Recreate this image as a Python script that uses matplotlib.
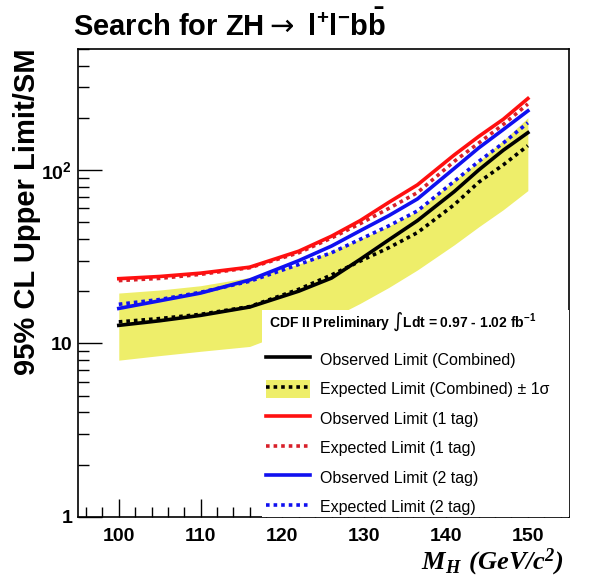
"""95% CL upper limits on ZH -> l+l- bb, CDF II preliminary."""
import numpy as np
import matplotlib
matplotlib.use('Agg')
import matplotlib.pyplot as plt
from matplotlib.lines import Line2D
from matplotlib.patches import Patch, Rectangle
from matplotlib.ticker import FixedLocator, MultipleLocator, LogLocator, NullFormatter

plt.rcParams['font.family'] = ['Liberation Sans', 'DejaVu Sans']

# Higgs mass points (GeV/c^2)
mass = [100, 105, 110, 116, 122, 126, 129.5, 133, 136.5, 141, 144, 147, 150]

# limits / SM
obs_comb = [12.7, 13.5, 14.5, 16.2, 20.0, 23.8, 30.5, 39.5, 51.0, 75.0, 100, 130, 164]
exp_comb = [13.3, 13.9, 14.7, 16.3, 20.5, 24.8, 29.8, 35.6, 43.5, 63.0, 85, 107, 138]
band_lo = [8.0, 8.5, 9.0, 9.6, 12.3, 14.0, 17.0, 21.0, 26.5, 37.0, 47, 59, 76]
band_hi = [19.5, 20.3, 21.5, 24.0, 28.6, 34.0, 40.0, 47.5, 58.0, 87.0, 112, 148, 200]
obs_1tag = [23.6, 24.3, 25.4, 27.5, 34.0, 41.5, 51.0, 65.0, 82.0, 122, 156, 196, 258]
exp_1tag = [23.0, 23.7, 25.0, 27.3, 33.3, 40.5, 49.0, 60.0, 74.0, 112, 143, 183, 240]
obs_2tag = [15.9, 17.6, 19.5, 23.2, 30.0, 36.4, 44.6, 54.5, 68.0, 102, 134, 171, 219]
exp_2tag = [16.8, 17.9, 19.7, 22.8, 28.5, 33.3, 39.8, 47.6, 58.0, 86.0, 112, 143, 187]

yellow = '#eeee6a'
red = '#ff1010'
red_exp = '#d8202a'
blue = '#1010f0'
dotted = (0, (1, 1.1))

fig = plt.figure(figsize=(5.9, 5.8), dpi=100)
ax = fig.add_axes([0.132, 0.109, 0.832, 0.807])

ax.fill_between(mass, band_lo, band_hi, color=yellow, lw=0, zorder=1)

lw = 2.6
ax.plot(mass, exp_comb, color='black', lw=lw, ls=dotted, zorder=4)
ax.plot(mass, obs_comb, color='black', lw=lw, zorder=4)
ax.plot(mass, exp_2tag, color=blue, lw=lw, ls=dotted, zorder=4)
ax.plot(mass, obs_2tag, color=blue, lw=lw, zorder=4)
ax.plot(mass, exp_1tag, color=red_exp, lw=lw, ls=dotted, zorder=4)
ax.plot(mass, obs_1tag, color=red, lw=lw, zorder=4)

# white area behind the legend covers the lower part of the band
ax.add_patch(Rectangle((0.376, 0.0), 0.624, 0.442, transform=ax.transAxes,
                       facecolor='white', edgecolor='none', zorder=3))

ax.set_xlim(95, 155)
ax.set_yscale('log')
ax.set_ylim(1, 500)

ax.xaxis.set_major_locator(MultipleLocator(10))
ax.xaxis.set_minor_locator(MultipleLocator(2))
ax.yaxis.set_major_locator(FixedLocator([1, 10, 100]))
ax.yaxis.set_minor_locator(LogLocator(base=10, subs=np.arange(2, 10)))
ax.yaxis.set_minor_formatter(NullFormatter())
ax.set_yticklabels(['1', '10', r'$\mathregular{10^{2}}$'])

ax.tick_params(which='both', direction='in', top=False, right=False)
ax.tick_params(axis='x', which='major', length=13, width=1, pad=8)
ax.tick_params(axis='x', which='minor', length=7, width=1)
ax.tick_params(axis='y', which='major', length=17, width=1, pad=4)
ax.tick_params(axis='y', which='minor', length=8, width=1)
for lab in ax.get_xticklabels() + ax.get_yticklabels():
    lab.set_fontsize(14)
    lab.set_fontweight('bold')
for sp in ax.spines.values():
    sp.set_linewidth(1.2)

handles = [
    Line2D([], [], color='black', lw=lw),
    (Patch(facecolor=yellow, edgecolor='none'),
     Line2D([], [], color='black', lw=lw, ls=dotted)),
    Line2D([], [], color=red, lw=lw),
    Line2D([], [], color=red_exp, lw=lw, ls=dotted),
    Line2D([], [], color=blue, lw=lw),
    Line2D([], [], color=blue, lw=lw, ls=dotted),
]
labels = [
    'Observed Limit (Combined)',
    'Expected Limit (Combined)' + u' \u00b1 1\u03c3',
    'Observed Limit (1 tag)',
    'Expected Limit (1 tag)',
    'Observed Limit (2 tag)',
    'Expected Limit (2 tag)',
]
leg = ax.legend(handles, labels, loc='lower left',
                bbox_to_anchor=(0.376, -0.005), frameon=False,
                fontsize=11.5, handlelength=2.8, handleheight=1.4,
                handletextpad=0.6, labelspacing=0.69, borderaxespad=0.0,
                borderpad=0.2)
leg.set_zorder(5)

ax.text(0.39, 0.417,
        r'CDF II Preliminary $\int$Ldt = 0.97 - 1.02 fb$\mathregular{^{-1}}$',
        transform=ax.transAxes, ha='left', va='center',
        fontsize=10, fontweight='bold', zorder=6)

fig.text(0.124, 0.938,
         r'Search for ZH$\rightarrow$ $\mathregular{l^{+}l^{-}b\bar{b}}$',
         ha='left', va='baseline', fontsize=21, fontweight='bold')

fig.text(0.046, 0.917, '95% CL Upper Limit/SM', rotation=90,
         ha='center', va='top', fontsize=21, fontweight='bold')

fig.text(0.955, 0.018, r'$\mathregular{M_H\ (GeV/c^2)}$',
         ha='right', va='baseline', fontsize=19, fontweight='bold',
         style='italic', family='Liberation Serif')

fig.savefig('out.png', dpi=100)
